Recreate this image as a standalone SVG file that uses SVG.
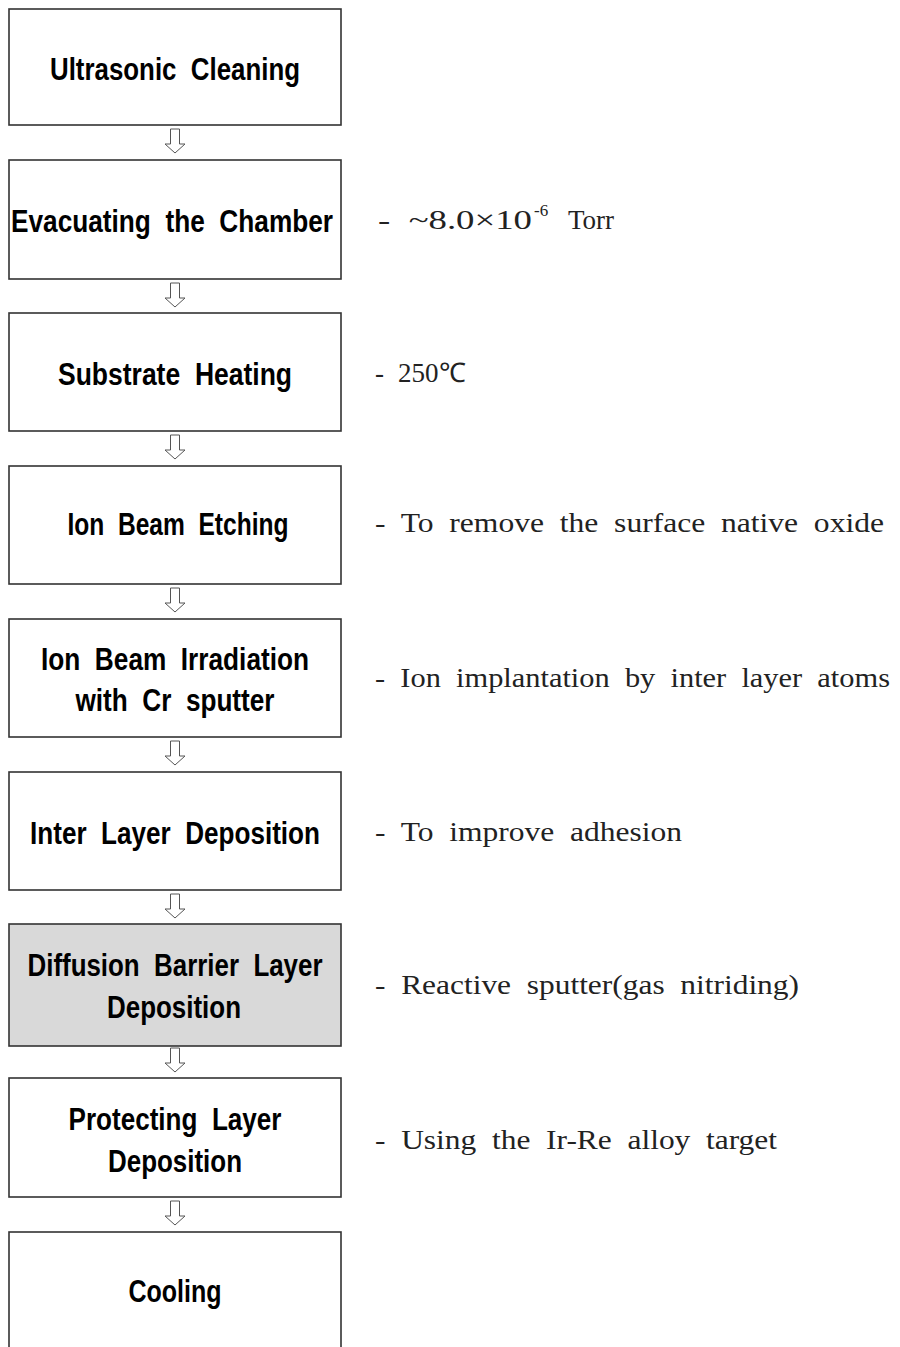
<svg xmlns="http://www.w3.org/2000/svg" xmlns:xlink="http://www.w3.org/1999/xlink" width="900" height="1347" viewBox="0 0 900 1347">
<style>
.box{fill:#fff;stroke:#333;stroke-width:1.6}
.gray{fill:#d9d9d9}
.lbl{font-family:"Liberation Sans",Arial,sans-serif;font-weight:bold;font-size:32px;fill:#000;text-anchor:middle;white-space:pre}
.note{font-family:"Liberation Serif","Times New Roman",serif;font-size:27px;fill:#222;white-space:pre}
.sup{font-family:"Liberation Serif","Times New Roman",serif;font-size:17px;fill:#222}
.arr{fill:#fff;stroke:#555;stroke-width:1}
</style>
<defs>
<path id="arrow" d="M170.5,0 H179.5 V15 H185 L175,24 L165,15 H170.5 Z"/>
</defs>
<rect width="900" height="1347" fill="#fff"/>
<g id="connectors">
<use xlink:href="#arrow" class="arr" transform="translate(0,129)"/>
<use xlink:href="#arrow" class="arr" transform="translate(0,283)"/>
<use xlink:href="#arrow" class="arr" transform="translate(0,435)"/>
<use xlink:href="#arrow" class="arr" transform="translate(0,588)"/>
<use xlink:href="#arrow" class="arr" transform="translate(0,741)"/>
<use xlink:href="#arrow" class="arr" transform="translate(0,894)"/>
<use xlink:href="#arrow" class="arr" transform="translate(0,1048)"/>
<use xlink:href="#arrow" class="arr" transform="translate(0,1201)"/>
</g>
<g id="n1"><rect class="box" x="9" y="9" width="332" height="116"/>
<text class="lbl" x="175" y="80" textLength="250" lengthAdjust="spacingAndGlyphs">Ultrasonic  Cleaning</text></g>
<g id="n2"><rect class="box" x="9" y="160" width="332" height="119"/>
<text class="lbl" x="172" y="232" textLength="322" lengthAdjust="spacingAndGlyphs">Evacuating  the  Chamber</text></g>
<g id="n3"><rect class="box" x="9" y="313" width="332" height="118"/>
<text class="lbl" x="175" y="385" textLength="234" lengthAdjust="spacingAndGlyphs">Substrate  Heating</text></g>
<g id="n4"><rect class="box" x="9" y="466" width="332" height="118"/>
<text class="lbl" x="178" y="535" textLength="221" lengthAdjust="spacingAndGlyphs">Ion  Beam  Etching</text></g>
<g id="n5"><rect class="box" x="9" y="619" width="332" height="118"/>
<text class="lbl" x="175" y="670" textLength="268" lengthAdjust="spacingAndGlyphs">Ion  Beam  Irradiation</text>
<text class="lbl" x="175" y="711" textLength="199" lengthAdjust="spacingAndGlyphs">with  Cr  sputter</text></g>
<g id="n6"><rect class="box" x="9" y="772" width="332" height="118"/>
<text class="lbl" x="175" y="844" textLength="290" lengthAdjust="spacingAndGlyphs">Inter  Layer  Deposition</text></g>
<g id="n7"><rect class="box gray" x="9" y="924" width="332" height="122"/>
<text class="lbl" x="175" y="976" textLength="295" lengthAdjust="spacingAndGlyphs">Diffusion  Barrier  Layer</text>
<text class="lbl" x="174" y="1018" textLength="134" lengthAdjust="spacingAndGlyphs">Deposition</text></g>
<g id="n8"><rect class="box" x="9" y="1078" width="332" height="119"/>
<text class="lbl" x="175" y="1130" textLength="213" lengthAdjust="spacingAndGlyphs">Protecting  Layer</text>
<text class="lbl" x="175" y="1172" textLength="134" lengthAdjust="spacingAndGlyphs">Deposition</text></g>
<g id="n9"><rect class="box" x="9" y="1232" width="332" height="120"/>
<text class="lbl" x="175" y="1302" textLength="93" lengthAdjust="spacingAndGlyphs">Cooling</text></g>
<g id="notes">
<text class="note" x="378" y="229" textLength="154" lengthAdjust="spacingAndGlyphs">-  ~8.0×10</text>
<text class="sup" x="534" y="216">-6</text>
<text class="note" x="568" y="229">Torr</text>
<text class="note" y="382"><tspan x="375">-</tspan><tspan x="398">250℃</tspan></text>
<text class="note" x="375" y="532" textLength="509" lengthAdjust="spacingAndGlyphs">-  To  remove  the  surface  native  oxide</text>
<text class="note" x="375" y="687" textLength="515" lengthAdjust="spacingAndGlyphs">-  Ion  implantation  by  inter  layer  atoms</text>
<text class="note" x="375" y="841" textLength="307" lengthAdjust="spacingAndGlyphs">-  To  improve  adhesion</text>
<text class="note" x="375" y="994" textLength="424" lengthAdjust="spacingAndGlyphs">-  Reactive  sputter(gas  nitriding)</text>
<text class="note" x="375" y="1149" textLength="402" lengthAdjust="spacingAndGlyphs">-  Using  the  Ir-Re  alloy  target</text>
</g>
</svg>
